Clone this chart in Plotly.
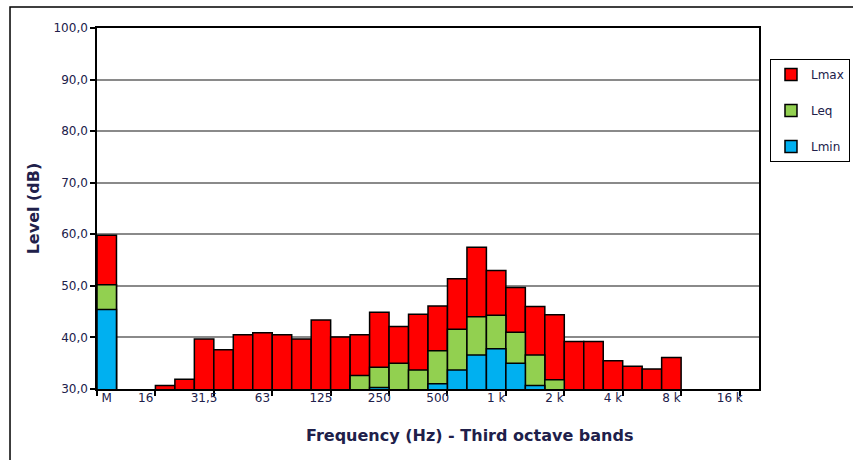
import plotly.graph_objects as go

# Third-octave bands (index 0 = overall "M")
bands = ["M", "12,5", "16", "20", "25", "31,5", "40", "50", "63", "80", "100",
         "125", "160", "200", "250", "315", "400", "500", "630", "800", "1 k",
         "1,25 k", "1,6 k", "2 k", "2,5 k", "3,15 k", "4 k", "5 k", "6,3 k",
         "8 k", "10 k", "12,5 k", "16 k", "20 k"]

lmax = [59.8, None, None, 30.7, 31.9, 39.7, 37.6, 40.5, 40.9, 40.5, 39.7,
        43.4, 40.1, 40.5, 44.9, 42.1, 44.5, 46.1, 51.4, 57.5, 53.0,
        49.7, 46.0, 44.4, 39.2, 39.2, 35.5, 34.4, 33.9,
        36.1, None, None, None, None]

leq = [50.2, None, None, None, None, None, None, None, None, None, None,
       None, None, 32.6, 34.2, 35.0, 33.7, 37.4, 41.6, 44.0, 44.3,
       41.0, 36.6, 31.8, None, None, None, None, None,
       None, None, None, None, None]

lmin = [45.4, None, None, None, None, None, None, None, None, None, None,
        None, None, None, 30.3, None, None, 31.0, 33.7, 36.6, 37.8,
        35.0, 30.7, None, None, None, None, None, None,
        None, None, None, None, None]

# Labelled bands on the frequency axis
label_bands = ["M", "16", "31,5", "63", "125", "250", "500", "1 k", "2 k", "4 k", "8 k", "16 k"]

y_ticks = [30, 40, 50, 60, 70, 80, 90, 100]

xpos = list(range(len(bands)))
label_pos = [bands.index(b) for b in label_bands]
# tick marks every octave, on the band boundaries
boundary_pos = [-0.5] + [i - 0.5 for i in range(3, len(bands), 3)]

FONT = "DejaVu Sans"
TXT = "#20204a"

fig = go.Figure()
series = [("Lmax", lmax, "#FF0000"), ("Leq", leq, "#92D050"), ("Lmin", lmin, "#00B0F0")]
for name, vals, col in series:
    fig.add_trace(go.Bar(
        x=xpos, y=vals, name=name, width=1.0,
        marker=dict(color=col, line=dict(color="black", width=1.5)),
        legendgroup=name, customdata=bands,
        hovertemplate="%{customdata}: %{y:.1f} dB<extra>" + name + "</extra>",
    ))

# helper trace to carry the label axis
fig.add_trace(go.Scatter(x=[0, len(bands) - 1], y=[None, None], xaxis="x2",
                         showlegend=False, hoverinfo="skip", mode="markers"))

fig.update_layout(
    width=853, height=460,
    margin=dict(l=97, r=94, t=28, b=71, autoexpand=False),
    paper_bgcolor="white", plot_bgcolor="white",
    barmode="overlay",
    separators=",.",
    font=dict(family=FONT, color=TXT, size=12),
    xaxis=dict(
        range=[-0.5, len(bands) - 0.5],
        tickmode="array", tickvals=boundary_pos, ticktext=[""] * len(boundary_pos),
        ticks="outside", ticklen=5, tickwidth=1.5, tickcolor="black",
        showgrid=False, zeroline=False,
        showline=True, linecolor="black", linewidth=1.5, mirror=True,
    ),
    xaxis2=dict(
        overlaying="x", side="bottom", anchor="y",
        range=[-0.5, len(bands) - 0.5],
        tickmode="array", tickvals=label_pos, ticktext=label_bands,
        ticks="", showgrid=False, zeroline=False, showline=False,
        tickfont=dict(family=FONT, size=12, color=TXT),
    ),
    yaxis=dict(
        range=[30, 100], tickmode="array", tickvals=y_ticks, tickformat=".1f",
        ticks="outside", ticklen=5, tickwidth=1.5, tickcolor="black",
        showgrid=True, gridcolor="#8a8a8a", gridwidth=1.5, zeroline=False,
        showline=True, linecolor="black", linewidth=1.5, mirror=True,
        tickfont=dict(family=FONT, size=12, color=TXT),
        title=dict(text="<b>Level (dB)</b>", font=dict(family=FONT, size=16, color=TXT), standoff=10),
    ),
    legend=dict(
        x=1.0166, y=0.914, xanchor="left", yanchor="top",
        bordercolor="black", borderwidth=1, bgcolor="white",
        font=dict(family=FONT, size=12, color=TXT),
        traceorder="grouped", tracegroupgap=17,
        itemwidth=30,
    ),
    annotations=[dict(
        text="<b>Frequency (Hz) - Third octave bands</b>",
        xref="paper", yref="paper", x=0.562, y=-0.130,
        xanchor="center", yanchor="middle", showarrow=False,
        font=dict(family=FONT, size=16, color=TXT),
    )],
    shapes=[dict(
        type="rect", xref="paper", yref="paper",
        x0=-0.1314, x1=1.6, y0=-0.6, y1=1.058,
        line=dict(color="black", width=1.5), layer="below",
    )],
)

fig.write_html("out.html")
